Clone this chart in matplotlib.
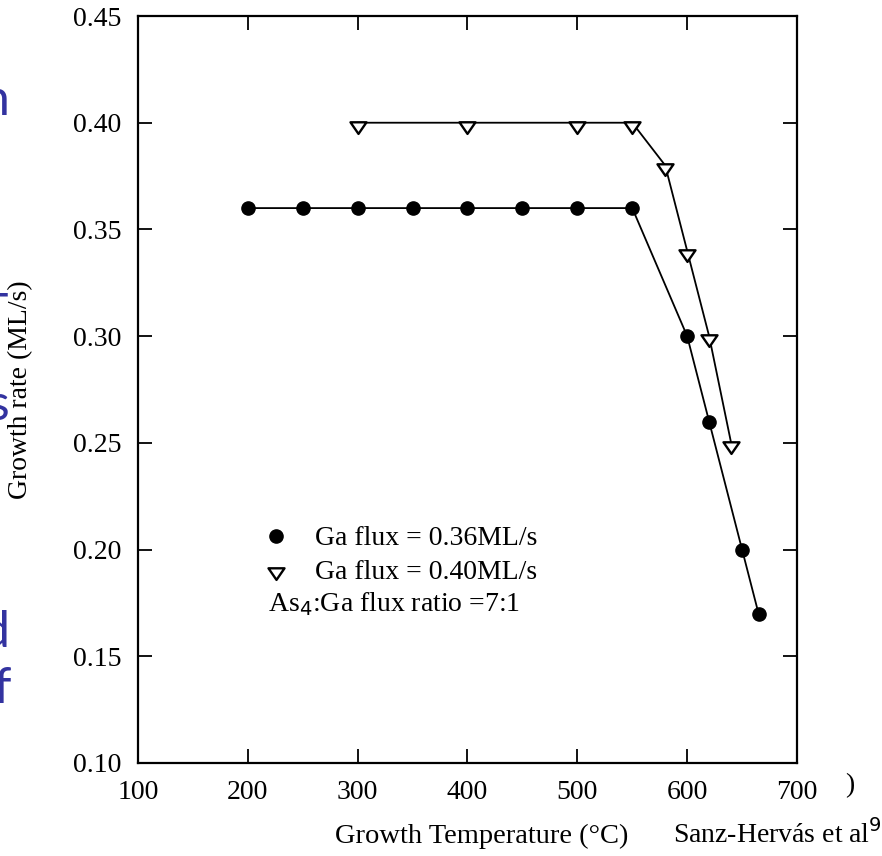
import matplotlib
matplotlib.use("Agg")
import matplotlib.pyplot as plt
from matplotlib.path import Path
from matplotlib.lines import Line2D

# ---- data ----
temp_36 = [200, 250, 300, 350, 400, 450, 500, 550, 600, 620, 650, 665]
rate_36 = [0.36, 0.36, 0.36, 0.36, 0.36, 0.36, 0.36, 0.36, 0.30, 0.26, 0.20, 0.17]
temp_40 = [300, 400, 500, 550, 580, 600, 620, 640]
rate_40 = [0.40, 0.40, 0.40, 0.40, 0.38, 0.34, 0.30, 0.25]
xticks = [100, 200, 300, 400, 500, 600, 700]
yticks = [0.10, 0.15, 0.20, 0.25, 0.30, 0.35, 0.40, 0.45]
label_36 = "Ga flux = 0.36ML/s"
label_40 = "Ga flux = 0.40ML/s"
note = "As$_4$:Ga flux ratio =7:1"

W, H = 882, 856
fig = plt.figure(figsize=(W / 100, H / 100), dpi=100)
serif = ["Liberation Serif", "DejaVu Serif"]

def fx(px):
    return px / W

def fy(py):
    return 1 - py / H

ax_l, ax_r = 138, 797
ax = fig.add_axes([fx(ax_l), fy(763), fx(ax_r) - fx(ax_l), fy(16) - fy(763)])

tri = Path([(-1.0, 0.15), (1.0, 0.15), (0.0, -1.3), (-1.0, 0.15)],
           [Path.MOVETO, Path.LINETO, Path.LINETO, Path.CLOSEPOLY])

ax.plot(temp_36, rate_36, color="black", lw=1.3, marker="o", ms=9.5,
        mfc="black", mec="black", zorder=3)
ax.plot(temp_40, rate_40, color="black", lw=1.3, marker=tri, ms=15,
        mfc="white", mec="black", mew=1.7, zorder=3)

ax.set_xlim(100, 700)
ax.set_ylim(0.10, 0.45)
ax.set_xticks(xticks)
ax.set_yticks(yticks)
ax.set_xticklabels([str(v) for v in xticks], fontfamily=serif, fontsize=20)
ax.set_yticklabels([f"{v:.2f}" for v in yticks], fontfamily=serif, fontsize=20)
ax.tick_params(direction="in", length=10, width=1.3, top=True, right=True,
               pad=12, colors="black")
for s in ax.spines.values():
    s.set_linewidth(1.6)
    s.set_color("black")

ax.set_ylabel("Growth rate (ML/s)", fontfamily=serif, fontsize=20)
ax.yaxis.set_label_coords((33 - ax_l) / (ax_r - ax_l), 0.5)

h36 = Line2D([], [], color="black", marker="o", ms=9.5, ls="none")
h40 = Line2D([], [], color="black", marker=tri, ms=15, mfc="white", mew=1.7, ls="none")
leg = fig.legend([h36, h40], [label_36, label_40], loc="upper left",
                 bbox_to_anchor=(fx(262), fy(526)), frameon=False,
                 prop={"family": serif, "size": 20}, handlelength=1.0,
                 handletextpad=0.9, labelspacing=0.28, borderpad=0,
                 borderaxespad=0)
fig.text(fx(268), fy(611), note, fontfamily=serif, fontsize=20,
         ha="left", va="baseline")

fig.text(fx(482), fy(843), "Growth Temperature (°C)", fontfamily=serif,
         fontsize=20.5, ha="center", va="baseline")
fig.text(fx(673), fy(843), "Sanz-Hervás et al$^{9}$", fontfamily=serif,
         fontsize=20, ha="left", va="baseline")
fig.text(fx(850), fy(792), ")", fontfamily=serif, fontsize=20,
         ha="center", va="baseline")

blue = "#3333A0"
sans = ["Lato", "DejaVu Sans"]
for ch, xr, yb in [("n", 9, 115), ("T", 8, 329), ("s", 9, 420),
                   ("d", 10, 647), ("f", 11, 703)]:
    fig.text(fx(xr), fy(yb), ch, color=blue, fontfamily=sans, fontsize=36,
             ha="right", va="baseline")

fig.savefig("out.png", dpi=100)
